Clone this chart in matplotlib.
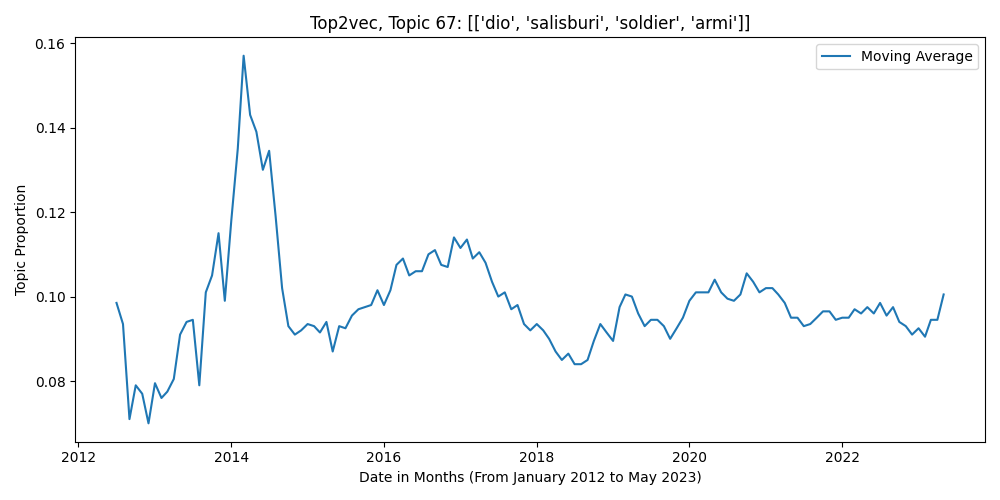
import matplotlib
matplotlib.use("Agg")
import matplotlib.pyplot as plt
import pandas as pd

start = "2012-07-01"
values = [
0.0985,0.0935,0.071,0.079,0.077,0.070,
0.0795,0.076,0.0775,0.0805,0.091,0.094,0.0945,0.079,0.101,0.105,0.115,0.099,
0.118,0.135,0.157,0.143,0.139,0.130,0.1345,0.119,0.102,0.093,0.091,0.092,
0.0935,0.093,0.0915,0.094,0.087,0.093,0.0925,0.0955,0.097,0.0975,0.098,0.1015,
0.098,0.1015,0.1075,0.109,0.105,0.106,0.106,0.110,0.111,0.1075,0.107,0.114,
0.1115,0.1135,0.109,0.1105,0.108,0.1035,0.100,0.101,0.097,0.098,0.0935,0.092,
0.0935,0.092,0.090,0.087,0.085,0.0865,0.084,0.084,0.085,0.0895,0.0935,0.0915,
0.0895,0.0975,0.1005,0.100,0.096,0.093,0.0945,0.0945,0.093,0.090,0.0925,0.095,
0.099,0.101,0.101,0.101,0.104,0.101,0.0995,0.099,0.1005,0.1055,0.1035,0.101,
0.102,0.102,0.1005,0.0985,0.095,0.095,0.093,0.0935,0.095,0.0965,0.0965,0.0945,
0.095,0.095,0.097,0.096,0.0975,0.096,0.0985,0.0955,0.0975,0.094,0.093,0.091,
0.0925,0.0905,0.0945,0.0945,0.1005]
dates = pd.date_range(start, periods=len(values), freq="MS")

fig, ax = plt.subplots(figsize=(10, 5), dpi=100)
ax.plot(dates, values, color="#1f77b4", label="Moving Average")
ax.set_title("Top2vec, Topic 67: [['dio', 'salisburi', 'soldier', 'armi']]")
ax.set_xlabel("Date in Months (From January 2012 to May 2023)")
ax.set_ylabel("Topic Proportion")
ax.legend(loc="upper right")
fig.tight_layout()
fig.savefig("out.png")
